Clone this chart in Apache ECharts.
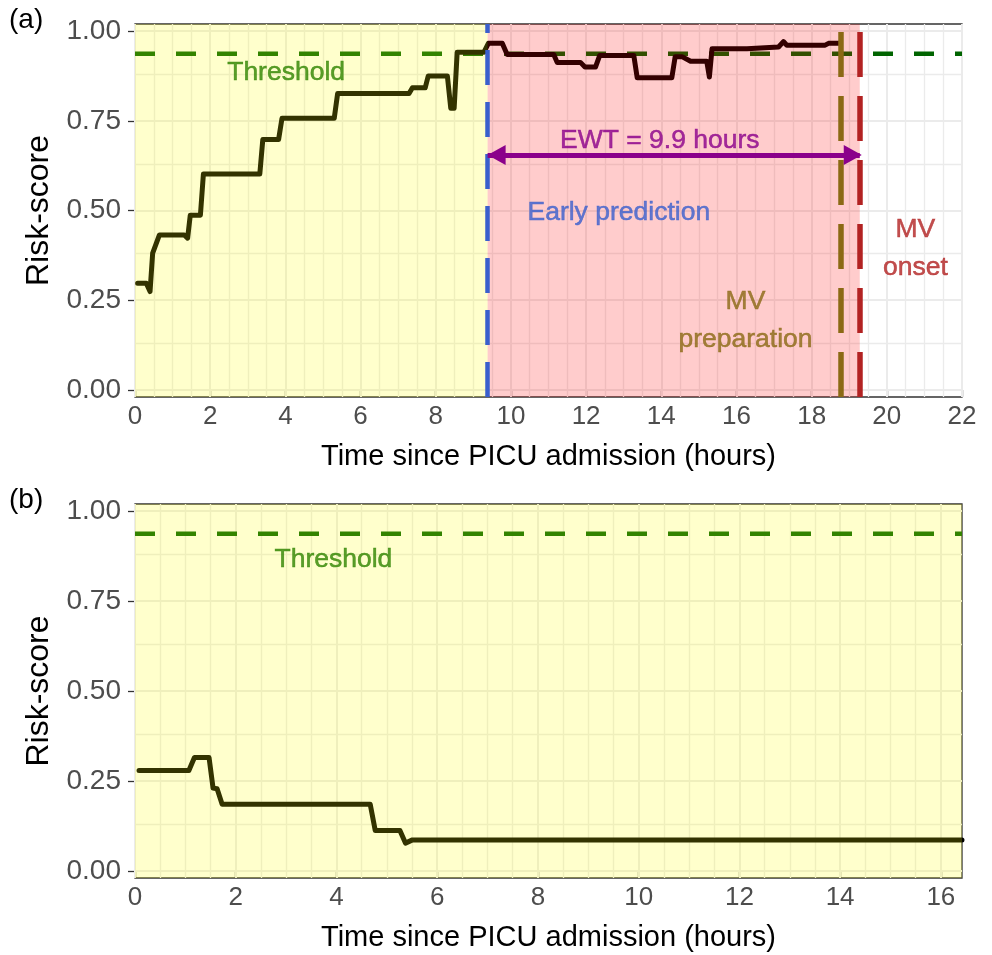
<!DOCTYPE html>
<html><head><meta charset="utf-8">
<script src="https://cdn.jsdelivr.net/npm/echarts@6/dist/echarts.min.js"></script>
<style>html,body{margin:0;padding:0;background:#fff}#c{width:992px;height:955px}</style>
</head><body><div id="c"></div>
<script>
// ---------- data ----------
const hoursA = [0.07,0.30,0.40,0.47,0.65,1.31,1.40,1.47,1.74,1.82,3.32,3.40,3.82,3.91,5.30,5.39,7.29,7.38,7.72,7.80,8.31,8.40,8.49,8.57,9.28,9.40,9.77,9.90,11.14,11.23,11.85,11.97,12.25,12.36,13.27,13.36,14.28,14.37,14.55,14.78,15.21,15.28,15.35,16.28,16.32,17.12,17.25,17.34,18.36,18.45,18.75];
const riskA  = [0.297,0.297,0.274,0.381,0.432,0.432,0.423,0.487,0.487,0.602,0.602,0.698,0.698,0.757,0.757,0.826,0.826,0.842,0.842,0.875,0.875,0.785,0.785,0.941,0.941,0.966,0.966,0.935,0.935,0.913,0.913,0.900,0.900,0.932,0.932,0.870,0.870,0.929,0.929,0.916,0.916,0.872,0.951,0.951,0.956,0.956,0.971,0.961,0.961,0.966,0.966];
const hoursB = [0.08,1.07,1.18,1.47,1.55,1.63,1.73,4.67,4.77,5.26,5.37,5.51,16.42];
const riskB  = [0.279,0.279,0.315,0.315,0.230,0.228,0.185,0.185,0.112,0.112,0.077,0.086,0.086];

const threshold = 0.937;
const earlyPredictionTime = 9.38;
const mvPreparationTime = 18.78;
const mvOnsetTime = 19.28;
const ewtLevel = 0.655;
const xMaxA = 22;
const xMaxB = 16.42;

const xTicksA = [0,2,4,6,8,10,12,14,16,18,20,22];
const xTicksB = [0,2,4,6,8,10,12,14,16];
const yTicks  = [0,0.25,0.5,0.75,1];

const textsA = ['Threshold','EWT = 9.9 hours','Early prediction','MV\npreparation','MV\nonset'];
const textXA = [4.02, 13.96, 12.87, 16.24, 20.76];
const textYA = [0.883, 0.694, 0.493, 0.192, 0.394];
const textsB = ['Threshold'];
const textXB = [3.94];
const textYB = [0.864];

// ---------- styles ----------
const FONT = "'Liberation Sans', Arial, Helvetica, sans-serif";
const textColorsA = ['#2F8500','#8B008B','#3A5FCD','#8B6914','#B22222'];
const textColorsB = ['#2F8500'];
const GRIDCOL = '#EBEBEB';

function pairs(xs, ys){ return xs.map((x,i)=>[x, ys[i]]); }

function gridLines(xMax){
  const d = [];
  for (let v = 0; v <= xMax + 1e-9; v += 0.5) {
    const major = Math.abs(v/2 - Math.round(v/2)) < 1e-9;
    d.push({xAxis: v, lineStyle:{color:GRIDCOL, width: major ? 2 : 1.3, type:'solid'}});
  }
  for (let v = 0; v <= 1 + 1e-9; v += 0.125) {
    const major = Math.abs(v/0.25 - Math.round(v/0.25)) < 1e-9;
    d.push({yAxis: v, lineStyle:{color:GRIDCOL, width: major ? 2 : 1.3, type:'solid'}});
  }
  return d;
}

function xAxisOf(idx, max, ticks){
  return {
    type:'value', gridIndex: idx, min:0, max:max, interval:2,
    axisLine:{show:false},
    axisTick:{show:true, length:7, customValues: ticks, lineStyle:{color:'#333333', width:1.3}},
    axisLabel:{customValues: ticks, color:'#4D4D4D', fontSize:26, fontFamily:FONT, margin:7},
    splitLine:{show:false},
    name:'Time since PICU admission (hours)', nameLocation:'middle', nameGap:45,
    nameTextStyle:{color:'#000', fontSize:29, fontFamily:FONT}
  };
}
function yAxisOf(idx){
  return {
    type:'value', gridIndex: idx, min:-0.02, max:1.02,
    axisLine:{show:false},
    axisTick:{show:true, length:7, customValues: yTicks, lineStyle:{color:'#333333', width:1.3}},
    axisLabel:{customValues: yTicks, color:'#4D4D4D', fontSize:28, fontFamily:FONT, margin:14,
      formatter: v => v.toFixed(2)},
    splitLine:{show:false},
    name:'Risk-score', nameLocation:'middle', nameGap:77,
    nameTextStyle:{color:'#000', fontSize:32, fontFamily:FONT}
  };
}

function textSeries(idx, texts, xs, ys, colors){
  return {
    type:'scatter', xAxisIndex:idx, yAxisIndex:idx, z:6, silent:true,
    symbolSize:1, itemStyle:{color:'rgba(0,0,0,0)'},
    data: texts.map((t,i)=>({
      value:[xs[i], ys[i]],
      label:{show:true, position:'inside', formatter:t, color:colors[i],
        textBorderColor:colors[i], textBorderWidth:0.5,
        fontSize:26.5, fontFamily:FONT, lineHeight:38, align:'center', verticalAlign:'middle'}
    }))
  };
}

const series = [
  // ----- panel (a) -----
  {type:'line', xAxisIndex:0, yAxisIndex:0, data:[], z:1, silent:true,
   markLine:{z:1, silent:true, symbol:'none', label:{show:false}, animation:false, data: gridLines(xMaxA)}},
  {type:'line', xAxisIndex:0, yAxisIndex:0, z:2, silent:true, showSymbol:false,
   data: pairs([0, xMaxA],[threshold, threshold]),
   lineStyle:{color:'#006400', width:4.5, type:[20,21]}},
  {type:'line', xAxisIndex:0, yAxisIndex:0, z:2, silent:true, showSymbol:false,
   data: pairs(hoursA, riskA),
   lineStyle:{color:'#000', width:5, join:'round', cap:'round'}},
  {type:'line', xAxisIndex:0, yAxisIndex:0, data:[], z:3, silent:true,
   markArea:{z:3, silent:true, label:{show:false}, data:[
     [{xAxis:0, itemStyle:{color:'rgba(255,255,0,0.2)'}},{xAxis:earlyPredictionTime}],
     [{xAxis:earlyPredictionTime, itemStyle:{color:'rgba(255,0,0,0.2)'}},{xAxis:mvOnsetTime}]
   ]}},
  {type:'line', xAxisIndex:0, yAxisIndex:0, data:[], z:4, silent:true,
   markLine:{z:4, silent:true, symbol:'none', label:{show:false}, animation:false, data:[
     {xAxis:earlyPredictionTime, lineStyle:{color:'#3A5FCD', width:4.5, type:[35,17]}},
     {xAxis:mvPreparationTime, lineStyle:{color:'#8B6914', width:5.5, type:[45,19]}},
     {xAxis:mvOnsetTime, lineStyle:{color:'#B22222', width:5.5, type:[45,19]}},
     [{coord:[earlyPredictionTime, ewtLevel], symbol:'triangle', symbolSize:[20,18], symbolOffset:[0,9]},
      {coord:[mvOnsetTime, ewtLevel], symbol:'triangle', symbolSize:[20,18], symbolOffset:[0,7],
       lineStyle:{color:'#8B008B', width:5, type:'solid'}, itemStyle:{color:'#8B008B'}}]
   ]}},
  textSeries(0, textsA, textXA, textYA, textColorsA),
  // ----- panel (b) -----
  {type:'line', xAxisIndex:1, yAxisIndex:1, data:[], z:1, silent:true,
   markLine:{z:1, silent:true, symbol:'none', label:{show:false}, animation:false, data: gridLines(xMaxB)}},
  {type:'line', xAxisIndex:1, yAxisIndex:1, z:2, silent:true, showSymbol:false,
   data: pairs([0, xMaxB],[threshold, threshold]),
   lineStyle:{color:'#006400', width:4.5, type:[20,21]}},
  {type:'line', xAxisIndex:1, yAxisIndex:1, z:2, silent:true, showSymbol:false,
   data: pairs(hoursB, riskB),
   lineStyle:{color:'#000', width:5, join:'round', cap:'round'}},
  {type:'line', xAxisIndex:1, yAxisIndex:1, data:[], z:3, silent:true,
   markArea:{z:3, silent:true, label:{show:false}, data:[
     [{xAxis:0, itemStyle:{color:'rgba(255,255,0,0.2)'}},{xAxis:xMaxB}]
   ]}},
  textSeries(1, textsB, textXB, textYB, textColorsB)
];

const chart = echarts.init(document.getElementById('c'), null, {renderer:'canvas'});
chart.setOption({
  animation:false,
  backgroundColor:'#fff',
  grid:[
    {left:135, top:24, width:827, height:373, show:true, backgroundColor:'#fff', borderColor:'#333333', borderWidth:1.3},
    {left:135, top:504, width:827, height:374, show:true, backgroundColor:'#fff', borderColor:'#333333', borderWidth:1.3}
  ],
  xAxis:[xAxisOf(0, xMaxA, xTicksA), xAxisOf(1, xMaxB, xTicksB)],
  yAxis:[yAxisOf(0), yAxisOf(1)],
  graphic:[
    {type:'text', left:9, top:6, style:{text:'(a)', fontSize:28, fontFamily:FONT, fill:'#000'}},
    {type:'text', left:9, top:486, style:{text:'(b)', fontSize:28, fontFamily:FONT, fill:'#000'}}
  ],
  series: series
});
</script>
</body></html>
